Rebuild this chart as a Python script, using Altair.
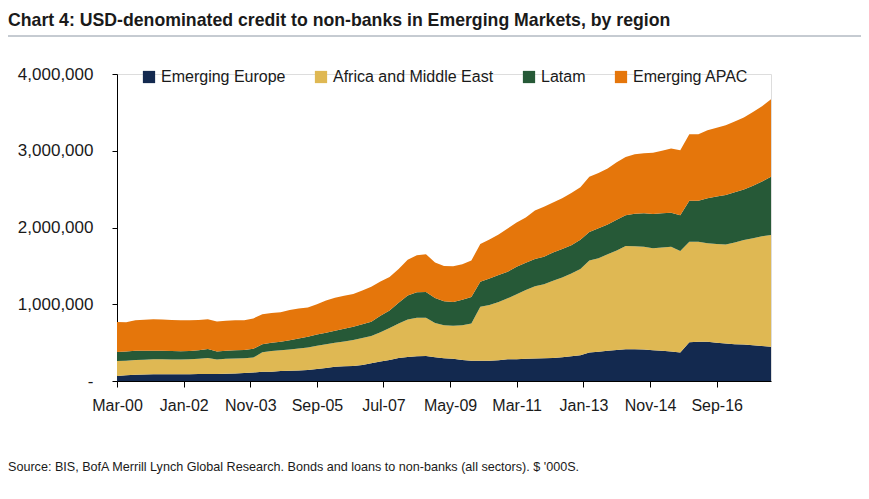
import altair as alt
import pandas as pd

# Quarterly observations, Mar-00 .. Mar-18 ($ '000)
dates = [f"{y}-{m:02d}-01" for y in range(2000, 2019) for m in (3, 6, 9, 12)][:73]

europe = [65, 75, 82, 85, 87, 87, 87, 87, 87, 90,
          92, 92, 95, 98, 105, 110, 120, 122, 130, 134,
          138, 143, 155, 170, 185, 192, 195, 210, 230, 255,
          275, 300, 312, 322, 325, 310, 295, 290, 275, 265,
          264, 264, 270, 282, 285, 290, 292, 295, 300, 310,
          322, 335, 370, 380, 395, 405, 413, 413, 410, 400,
          395, 385, 370, 505, 512, 510, 500, 490, 480, 475,
          465, 455, 447]
africa = [195, 190, 191, 193, 195, 195, 193, 193, 195, 200,
          208, 188, 195, 194, 190, 195, 255, 270, 270, 276,
          287, 295, 305, 310, 313, 323, 339, 350, 356, 380,
          415, 450, 488, 503, 500, 445, 430, 430, 450, 485,
          703, 726, 760, 795, 845, 895, 943, 965, 1005, 1040,
          1078, 1125, 1200, 1220, 1255, 1295, 1345, 1342, 1340, 1330,
          1345, 1365, 1325, 1310, 1303, 1285, 1285, 1290, 1325, 1361,
          1395, 1430, 1454]
latam = [118, 120, 122, 117, 113, 111, 110, 107, 108, 110,
         118, 105, 105, 108, 110, 115, 105, 108, 110, 120,
         130, 137, 145, 150, 157, 165, 173, 180, 186, 215,
         230, 270, 315, 330, 335, 325, 315, 310, 335, 345,
         326, 347, 350, 346, 360, 355, 355, 360, 370, 370,
         370, 380, 370, 390, 390, 400, 402, 425, 435, 446,
         445, 442, 465, 535, 535, 585, 620, 642, 655, 660,
         685, 715, 759]
apac = [392, 380, 395, 403, 408, 407, 405, 405, 400, 395,
        387, 390, 390, 390, 387, 395, 390, 385, 385, 395,
        390, 383, 395, 420, 430, 430, 426, 440, 456, 445,
        435, 440, 465, 485, 490, 465, 460, 465, 460, 475,
        491, 508, 530, 565, 575, 591, 630, 650, 650, 660,
        680, 685, 720, 720, 730, 750, 760, 775, 783, 797,
        815, 838, 845, 866, 866, 888, 895, 911, 920, 937,
        960, 980, 1010]

regions = ["Emerging Europe", "Africa and Middle East", "Latam", "Emerging APAC"]
colors = ["#13294f", "#dfb853", "#265937", "#e5760b"]
series = [europe, africa, latam, apac]

tick_dates = [(2000, 3), (2002, 1), (2003, 11), (2005, 9), (2007, 7),
              (2009, 5), (2011, 3), (2013, 1), (2014, 11), (2016, 9)]

title_text = "Chart 4: USD-denominated credit to non-banks in Emerging Markets, by region"
source_text = "Source: BIS, BofA Merrill Lynch Global Research. Bonds and loans to non-banks (all sectors). $ '000S."

rows = []
for k, (name, vals) in enumerate(zip(regions, series)):
    for d, v in zip(dates, vals):
        rows.append({"date": d, "region": name, "order": k, "value": v * 1000})
df = pd.DataFrame(rows)

FONT = "Liberation Sans, Arial, sans-serif"

W, H = 654, 307

area = alt.Chart(df).mark_area(interpolate="linear").encode(
    x=alt.X("date:T",
            scale=alt.Scale(type="utc",
                            domain=[alt.DateTime(year=2000, month=3, date=1, utc=True),
                                    alt.DateTime(year=2018, month=3, date=1, utc=True)]),
            axis=alt.Axis(values=[alt.DateTime(year=y, month=m, date=1, utc=True) for y, m in tick_dates],
                          labelExpr="utcFormat(datum.value, '%b-%y')", title=None, grid=False,
                          domainColor="#000000", tickColor="#000000", tickSize=6,
                          labelFont=FONT, labelFontSize=16, labelColor="#1a1a1a",
                          labelPadding=10, labelFlush=False, labelOverlap=False)),
    y=alt.Y("value:Q", stack="zero",
            scale=alt.Scale(domain=[0, 4000000], nice=False),
            axis=alt.Axis(values=[0, 1000000, 2000000, 3000000, 4000000],
                          labelExpr="datum.value == 0 ? '-\u00a0\u00a0\u00a0' : format(datum.value, ',')",
                          title=None, grid=False,
                          domainColor="#000000", tickColor="#000000", tickSize=5,
                          labelFont=FONT, labelFontSize=17, labelColor="#1a1a1a",
                          labelPadding=19)),
    color=alt.Color("region:N",
                    scale=alt.Scale(domain=regions, range=colors),
                    legend=alt.Legend(orient="none", legendX=24, legendY=-5,
                                      direction="horizontal", title=None,
                                      symbolType="square", symbolSize=150,
                                      symbolStrokeWidth=0, labelFont=FONT,
                                      labelFontSize=16, labelColor="#1a1a1a",
                                      labelOffset=4, labelLimit=400,
                                      columnPadding=27)),
    order=alt.Order("order:Q", sort="ascending"),
)

title = alt.Chart(pd.DataFrame({"t": [title_text]})).mark_text(
    align="left", baseline="alphabetic", font=FONT, fontSize=17.7,
    fontWeight="bold", color="#1a1a1a"
).encode(x=alt.value(-109), y=alt.value(-48), text="t:N")

rule = alt.Chart(pd.DataFrame({"a": [0]})).mark_rule(
    color="#8c97a4", strokeWidth=1
).encode(x=alt.value(-109), x2=alt.value(746), y=alt.value(-38))

source = alt.Chart(pd.DataFrame({"t": [source_text]})).mark_text(
    align="left", baseline="alphabetic", font=FONT, fontSize=12.6,
    color="#1a1a1a"
).encode(x=alt.value(-109), y=alt.value(397), text="t:N")

chart = alt.layer(area, title, rule, source).properties(
    width=W, height=H,
    autosize="none",
    padding={"left": 109, "top": 66, "right": 90, "bottom": 110},
).configure_view(stroke=None).configure(background="#ffffff")

chart.save("out.html", embed_options={"renderer": "svg", "actions": False})
